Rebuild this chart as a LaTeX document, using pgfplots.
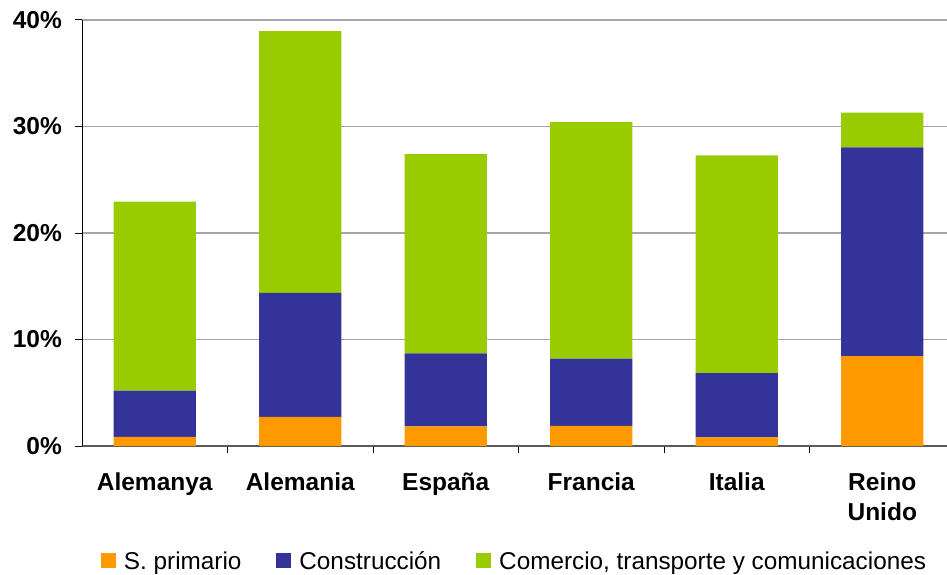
\documentclass[border=0pt]{standalone}
\usepackage{pgfplots}
\pgfplotsset{compat=1.18}
\usepackage{fontspec}
\setmainfont{Liberation Sans}
\definecolor{cOrange}{HTML}{FF9900}
\definecolor{cBlue}{HTML}{333399}
\definecolor{cGreen}{HTML}{99CC00}
\definecolor{cGrid}{HTML}{A6A6A6}
\begin{document}
\begin{tikzpicture}
\begin{axis}[
  at={(0,0)}, anchor=south west,
  scale only axis, width=865bp, height=426bp,
  ybar stacked, bar width=0.564,
  xmin=-0.5, xmax=5.445, ymin=0, ymax=40,
  xtick={0,1,2,3,4,5},
  xticklabels={Alemanya,Alemania,España,Francia,Italia,{Reino\\Unido}},
  minor xtick={0.5,1.5,2.5,3.5,4.5},
  major x tick style={draw=none},
  x tick style={black, line width=1bp},
  minor tick length=7bp,
  xtick align=outside,
  ytick={0,10,20,30,40},
  yticklabels={0\%,10\%,20\%,30\%,40\%},
  ytick align=outside, major tick length=7bp,
  y tick style={black, line width=1bp},
  ymajorgrids, grid style={cGrid, line width=1.3bp},
  axis x line*=bottom, axis y line*=left,
  x axis line style={draw=black!65, line width=1.6bp, -},
  y axis line style={black, line width=1bp, -},
  tick label style={font=\fontsize{24.5bp}{30bp}\selectfont\bfseries},
  xticklabel style={align=center, anchor=north, inner sep=0pt, yshift=-20bp},
  yticklabel style={anchor=east, inner sep=0pt, xshift=-13bp},
  /pgf/number format/assume math mode=true,
  legend style={draw=none, at={(0.5,-129bp)}, anchor=south, yshift=0bp,
    font=\fontsize{24.3bp}{28bp}\selectfont, legend columns=-1,
    /tikz/every even column/.append style={column sep=33bp},
    /tikz/every odd column/.append style={column sep=6bp}},
  legend image code/.code={\fill[#1] (0bp,-7bp) rectangle (15bp,8bp);},
  legend cell align=left,
]
\addplot[fill=cOrange, draw=none] coordinates {(0,0.85) (1,2.73) (2,1.85) (3,1.9) (4,0.8) (5,8.45)};
\addplot[fill=cBlue, draw=none] coordinates {(0,4.35) (1,11.65) (2,6.85) (3,6.3) (4,6.05) (5,19.6)};
\addplot[fill=cGreen, draw=none] coordinates {(0,17.75) (1,24.57) (2,18.7) (3,22.2) (4,20.45) (5,3.25)};
\legend{S. primario, Construcción, {Comercio, transporte y comunicaciones}}
\end{axis}
\pgfresetboundingbox
\path[use as bounding box] (-82bp,-129bp) rectangle (865bp,446bp);
\end{tikzpicture}
\end{document}
